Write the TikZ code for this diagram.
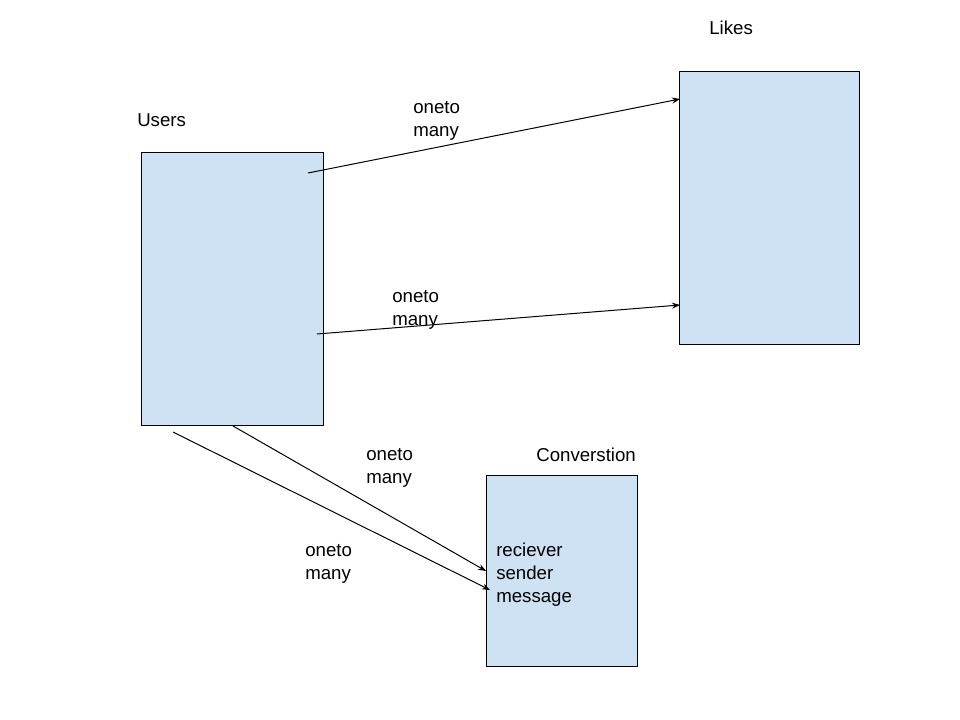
\documentclass[tikz,border=0pt]{standalone}
\usepackage{fontspec}
\setmainfont{Liberation Sans}
\usetikzlibrary{arrows.meta}
\definecolor{boxblue}{HTML}{CFE2F3}
\begin{document}
\begin{tikzpicture}[x=0.75pt,y=-0.75pt,
  entity/.style={draw=black,fill=boxblue,line width=0.75pt},
  lbl/.style={font=\fontsize{14pt}{17.25pt}\selectfont,anchor=north west,inner sep=0pt,align=left},
  rel/.style={draw=black,line width=0.75pt,-{Stealth[length=6pt,width=4.5pt]}}]
\useasboundingbox[fill=white] (0,0) rectangle (960,720);
% boxes
\draw[entity] (141,153) rectangle (323,425);
\draw[entity] (679,72) rectangle (859,344);
\draw[entity] (486,475) rectangle (637,666);
% titles
\node[lbl] (tusers) at (137,113) {Users};
\node[lbl] (tlikes) at (709,21) {Likes};
\node[lbl] (tconv) at (536,448) {Converstion};
\node[lbl] (fields) at (496,543) {reciever\\sender\\message};
% connectors
\coordinate (a1) at (308,173);
\coordinate (b1) at (680,99);
\coordinate (a2) at (317,334);
\coordinate (b2) at (680,305);
\coordinate (a3) at (233,426);
\coordinate (b3) at (486,571);
\coordinate (a4) at (173,432);
\coordinate (b4) at (490,590);
\draw[rel] (a1) -- (b1);
\draw[rel] (a2) -- (b2);
\draw[rel] (a3) -- (b3);
\draw[rel] (a4) -- (b4);
% labels
\node[lbl] (l1) at (413,101) {oneto\\many};
\node[lbl] (l2) at (392,290) {oneto\\many};
\node[lbl] (l3) at (366,448) {oneto\\many};
\node[lbl] (l4) at (305,544) {oneto\\many};
\end{tikzpicture}
\end{document}
